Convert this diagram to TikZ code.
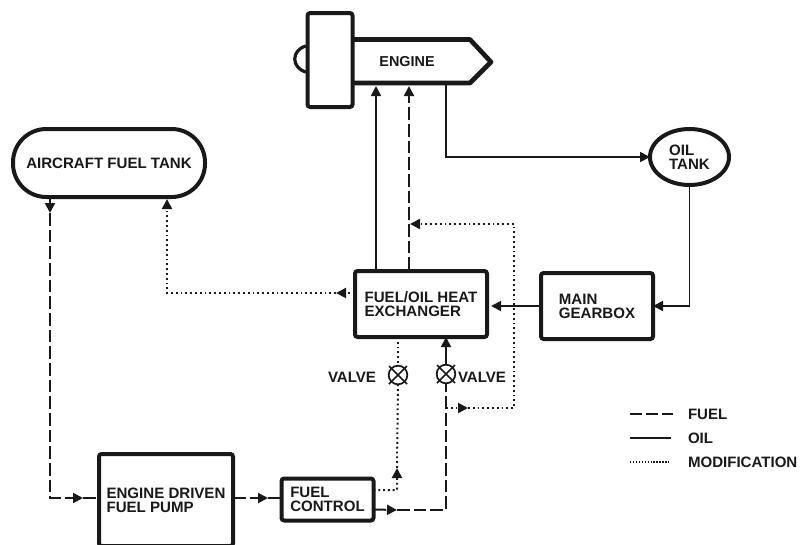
\documentclass[tikz,border=0pt]{standalone}
\usepackage{fontspec}
\setmainfont{Liberation Sans}
\usetikzlibrary{arrows.meta,shapes.geometric,calc}
\tikzset{
  x=0.75pt,y=-0.75pt,
  lab/.style={font=\fontsize{11.3pt}{10.6pt}\selectfont\bfseries,align=left,inner sep=0pt,outer sep=0pt,text=black!90},
  box/.style={lab,draw=black!90,line width=3pt,rounded corners=2pt,outer sep=0pt,inner sep=0pt},
  tip/.style={-{Triangle[length=7.5pt,width=7.5pt]}},
  fuel/.style={draw=black!90,line width=1.5pt,dash pattern=on 9.5pt off 3pt},
  oil/.style={draw=black!90,line width=1.3pt},
  mod/.style={draw=black!90,line width=1.5pt,dash pattern=on 1.4pt off 2.2pt},
  valve/.style={circle,draw=black!90,line width=1.3pt,minimum size=14pt,inner sep=0pt,outer sep=0pt},
  cross/.style={draw=black!90,line width=1.1pt}
}
\begin{document}
\begin{tikzpicture}
\useasboundingbox (0,0) rectangle (801,544);
\clip (0,0) rectangle (801,544);
% blocks
\node[box,rounded corners=25pt,minimum width=144pt,minimum height=51pt] (tank) at (109,163) {AIRCRAFT FUEL TANK};
\node[box,minimum width=33.75pt,minimum height=70.5pt] (front) at (330,60) {};
\node[box,minimum width=99pt,minimum height=49.5pt] (hx) at (421,304) {FUEL/OIL HEAT\\EXCHANGER};
\node[box,minimum width=84pt,minimum height=49.5pt] (gear) at (597,306) {MAIN\\GEARBOX};
\node[box,ellipse,rounded corners=0pt,minimum width=59.25pt,minimum height=42pt] (oiltank) at (689.5,157) {OIL\\TANK};
\node[box,minimum width=100.5pt,minimum height=69pt] (pump) at (166,500) {ENGINE DRIVEN\\FUEL PUMP};
\node[box,minimum width=69pt,minimum height=31.5pt] (fc) at (327.5,499.5) {FUEL\\CONTROL};
\node[lab,font=\fontsize{10.8pt}{10.6pt}\selectfont\bfseries] (engine) at (407,62) {ENGINE};
% engine body and intake
\draw[draw=black!90,line width=3.5pt,line join=round] (352,39.5) -- (470,39.5) -- (491,62) -- (470,83) -- (352,83);
\draw[draw=black!90,line width=2.4pt] (306,46) .. controls (291,50) and (291,68) .. (306,72);
% valves
\node[valve] (v1) at (398,375) {};
\node[valve] (v2) at (446,374) {};
\foreach \v in {v1,v2}{
  \draw[cross] ($(\v)+(-9,-9)$) -- ($(\v)+(9,9)$);
  \draw[cross] ($(\v)+(-9,9)$) -- ($(\v)+(9,-9)$);
}
\node[lab,anchor=east] (v1l) at (376,377) {VALVE};
\node[lab,anchor=west] (v2l) at (458,377) {VALVE};
% waypoints
\coordinate (e1) at (376,86);
\coordinate (e2) at (409,86);
\coordinate (e3) at (446,84);
\coordinate (h1) at (376,270);
\coordinate (h2) at (409,270);
\coordinate (t1) at (50,198);
\coordinate (t1h) at (50,213);
\coordinate (t2) at (167,199);
\coordinate (corner1) at (50,498);
\coordinate (a1) at (83,498);
\coordinate (a2) at (268,498);
\coordinate (p1) at (235,498);
\coordinate (m1) at (410,224);
\coordinate (m2) at (514,224);
\coordinate (m3) at (514,408);
\coordinate (m4) at (468,408);
\coordinate (f1) at (446,408);
\coordinate (f2) at (446,510);
\coordinate (f3) at (397,510);
\coordinate (d1) at (397,490);
\coordinate (d2) at (397,468);
\coordinate (x1) at (345,293);
\coordinate (x2) at (167,293);
\coordinate (x3) at (336,293);
\coordinate (g1) at (491,306);
% oil
\draw[oil,tip] (h1) -- (e1);
\draw[oil,tip] (e3) |- (oiltank.west);
\draw[oil,tip] (oiltank.south) |- (gear.east);
\draw[oil,tip] (gear.west) -- (g1);
\draw[oil,tip] (v2.north) -- (v2.north |- hx.south);
% fuel
\draw[fuel,tip] (h2) -- (e2);
\draw[fuel,dash pattern=on 20pt off 0pt,tip] (t1) -- (t1h);
\draw[fuel,tip] (t1h) -- (corner1) -- (a1);
\draw[fuel] (a1) -- (pump.west |- a1);
\draw[fuel,tip] (pump.east |- p1) -- (a2);
\draw[fuel] (a2) -- (fc.west |- a2);
\draw[fuel,tip] ([yshift=-7.5pt]fc.east) -- (f3);
\draw[fuel] (f3) -- (f2) -- (v2.south);
% modification
\draw[mod,tip] (x3 -| hx.west) -- (x3);
\draw[mod,tip] (x3) -- (x2) -- (t2);
\draw[mod,tip] (f1) -- (m4);
\draw[mod,tip] (m4) -- (m3) -- (m2) -- (m1);
\draw[mod] (hx.south -| v1) -- (v1.north);
\draw[mod] (v1.south) -- (d2);
\draw[mod,tip] ([yshift=7pt]fc.east) -- (d1) -- (d2);
% legend
\coordinate (l1) at (630,414);
\coordinate (l2) at (673,414);
\coordinate (l3) at (630,438);
\coordinate (l4) at (671,438);
\coordinate (l5) at (630,462);
\coordinate (l6) at (671,462);
\draw[fuel,line width=1.1pt,dash pattern=on 9pt off 3pt] (l1) -- (l2);
\draw[oil] (l3) -- (l4);
\draw[mod,line width=0.8pt,dash pattern=on 1pt off 1.2pt] (l5) -- (l6);
\node[lab,anchor=west] (lf) at (688,414) {FUEL};
\node[lab,anchor=west] (lo) at (688,438) {OIL};
\node[lab,anchor=west] (lm) at (688,462) {MODIFICATION};
\end{tikzpicture}
\end{document}
